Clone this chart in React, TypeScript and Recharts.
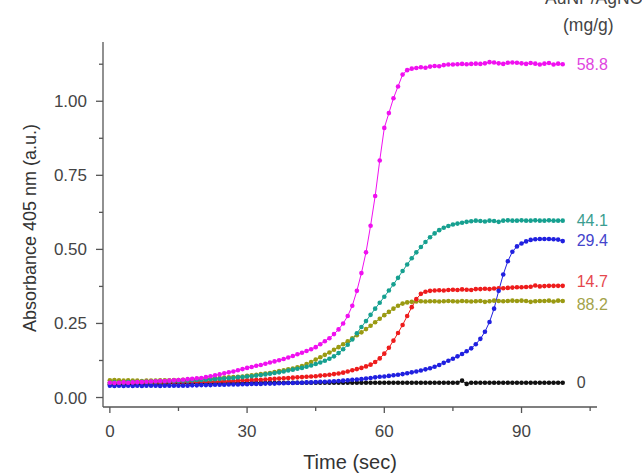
import React from 'react'
import { LineChart, Line, XAxis, YAxis, Label } from 'recharts'

// sampling time (sec), one reading per second
const time = [
  0, 1, 2, 3, 4, 5, 6, 7, 8, 9, 10, 11, 12, 13, 14, 15, 16, 17, 18, 19,
  20, 21, 22, 23, 24, 25, 26, 27, 28, 29, 30, 31, 32, 33, 34, 35, 36, 37, 38, 39,
  40, 41, 42, 43, 44, 45, 46, 47, 48, 49, 50, 51, 52, 53, 54, 55, 56, 57, 58, 59,
  60, 61, 62, 63, 64, 65, 66, 67, 68, 69, 70, 71, 72, 73, 74, 75, 76, 77, 78, 79,
  80, 81, 82, 83, 84, 85, 86, 87, 88, 89, 90, 91, 92, 93, 94, 95, 96, 97, 98, 99,
]

// AuNP/AgNO3 ratio (mg/g) series
const s58_8 = [
  0.050, 0.049, 0.050, 0.051, 0.050, 0.051, 0.052, 0.052, 0.053, 0.054,
  0.055, 0.056, 0.056, 0.057, 0.058, 0.059, 0.060, 0.062, 0.063, 0.065,
  0.066, 0.069, 0.072, 0.075, 0.078, 0.082, 0.085, 0.088, 0.092, 0.096,
  0.100, 0.103, 0.107, 0.110, 0.114, 0.118, 0.122, 0.126, 0.130, 0.135,
  0.140, 0.146, 0.151, 0.157, 0.163, 0.170, 0.180, 0.190, 0.200, 0.214,
  0.230, 0.250, 0.275, 0.310, 0.360, 0.420, 0.490, 0.580, 0.680, 0.800,
  0.910, 0.960, 1.010, 1.050, 1.090, 1.105, 1.110, 1.112, 1.115, 1.113,
  1.117, 1.119, 1.118, 1.122, 1.124, 1.124, 1.125, 1.126, 1.125, 1.126,
  1.127, 1.126, 1.128, 1.132, 1.131, 1.128, 1.126, 1.130, 1.131, 1.130,
  1.128, 1.126, 1.129, 1.127, 1.124, 1.127, 1.129, 1.124, 1.127, 1.125,
]
const s44_1 = [
  0.050, 0.051, 0.050, 0.051, 0.052, 0.052, 0.052, 0.053, 0.053, 0.053,
  0.054, 0.054, 0.055, 0.055, 0.056, 0.056, 0.057, 0.057, 0.058, 0.059,
  0.059, 0.060, 0.061, 0.062, 0.063, 0.064, 0.065, 0.066, 0.068, 0.069,
  0.071, 0.072, 0.074, 0.076, 0.078, 0.080, 0.083, 0.085, 0.088, 0.091,
  0.094, 0.097, 0.100, 0.104, 0.108, 0.113, 0.118, 0.124, 0.131, 0.139,
  0.150, 0.163, 0.178, 0.196, 0.217, 0.238, 0.258, 0.279, 0.300, 0.320,
  0.340, 0.361, 0.382, 0.404, 0.427, 0.449, 0.470, 0.490, 0.508, 0.525,
  0.541, 0.554, 0.565, 0.573, 0.579, 0.584, 0.587, 0.590, 0.593, 0.595,
  0.597, 0.596, 0.594, 0.597, 0.596, 0.593, 0.597, 0.598, 0.597, 0.597,
  0.598, 0.597, 0.597, 0.598, 0.597, 0.597, 0.598, 0.597, 0.597, 0.597,
]
const s29_4 = [
  0.040, 0.039, 0.040, 0.039, 0.040, 0.039, 0.040, 0.039, 0.040, 0.040,
  0.040, 0.039, 0.040, 0.040, 0.040, 0.040, 0.040, 0.040, 0.041, 0.041,
  0.042, 0.042, 0.042, 0.043, 0.043, 0.043, 0.044, 0.044, 0.044, 0.045,
  0.045, 0.046, 0.046, 0.046, 0.047, 0.047, 0.047, 0.048, 0.048, 0.049,
  0.049, 0.050, 0.050, 0.051, 0.051, 0.052, 0.053, 0.053, 0.054, 0.055,
  0.056, 0.057, 0.058, 0.060, 0.061, 0.062, 0.064, 0.066, 0.068, 0.070,
  0.071, 0.073, 0.075, 0.077, 0.079, 0.082, 0.085, 0.088, 0.091, 0.095,
  0.099, 0.104, 0.110, 0.117, 0.124, 0.131, 0.139, 0.147, 0.156, 0.166,
  0.180, 0.198, 0.222, 0.255, 0.300, 0.360, 0.415, 0.460, 0.492, 0.510,
  0.520, 0.527, 0.532, 0.534, 0.535, 0.535, 0.535, 0.534, 0.533, 0.528,
]
const s14_7 = [
  0.050, 0.049, 0.050, 0.050, 0.049, 0.050, 0.050, 0.050, 0.051, 0.050,
  0.051, 0.051, 0.051, 0.052, 0.051, 0.052, 0.052, 0.052, 0.053, 0.052,
  0.053, 0.053, 0.054, 0.054, 0.055, 0.055, 0.056, 0.056, 0.057, 0.058,
  0.058, 0.059, 0.060, 0.060, 0.061, 0.062, 0.063, 0.064, 0.065, 0.066,
  0.067, 0.068, 0.069, 0.070, 0.071, 0.072, 0.074, 0.075, 0.077, 0.079,
  0.081, 0.084, 0.088, 0.092, 0.096, 0.100, 0.105, 0.111, 0.120, 0.132,
  0.148, 0.168, 0.192, 0.218, 0.245, 0.275, 0.305, 0.332, 0.350, 0.357,
  0.360, 0.361, 0.362, 0.361, 0.363, 0.364, 0.363, 0.365, 0.364, 0.363,
  0.366, 0.366, 0.367, 0.366, 0.368, 0.369, 0.369, 0.370, 0.371, 0.372,
  0.372, 0.373, 0.374, 0.378, 0.375, 0.376, 0.377, 0.377, 0.377, 0.377,
]
const s88_2 = [
  0.058, 0.059, 0.058, 0.057, 0.058, 0.057, 0.057, 0.056, 0.057, 0.057,
  0.057, 0.058, 0.058, 0.058, 0.059, 0.059, 0.060, 0.060, 0.061, 0.062,
  0.062, 0.063, 0.064, 0.065, 0.066, 0.067, 0.068, 0.069, 0.070, 0.071,
  0.073, 0.075, 0.077, 0.079, 0.081, 0.083, 0.086, 0.089, 0.092, 0.095,
  0.098, 0.102, 0.106, 0.113, 0.120, 0.128, 0.136, 0.144, 0.152, 0.161,
  0.170, 0.180, 0.190, 0.200, 0.210, 0.220, 0.231, 0.242, 0.254, 0.266,
  0.278, 0.289, 0.300, 0.310, 0.317, 0.321, 0.323, 0.324, 0.325, 0.324,
  0.325, 0.325, 0.324, 0.325, 0.326, 0.325, 0.324, 0.326, 0.325, 0.324,
  0.325, 0.326, 0.323, 0.325, 0.327, 0.326, 0.325, 0.326, 0.327, 0.326,
  0.327, 0.326, 0.323, 0.325, 0.326, 0.326, 0.327, 0.324, 0.327, 0.326,
]
const s0 = [
  0.044, 0.044, 0.045, 0.044, 0.045, 0.045, 0.045, 0.045, 0.046, 0.046,
  0.046, 0.046, 0.046, 0.047, 0.047, 0.047, 0.047, 0.047, 0.048, 0.048,
  0.048, 0.048, 0.048, 0.048, 0.049, 0.049, 0.049, 0.049, 0.049, 0.049,
  0.050, 0.050, 0.050, 0.050, 0.050, 0.050, 0.050, 0.050, 0.050, 0.050,
  0.050, 0.050, 0.050, 0.050, 0.050, 0.050, 0.050, 0.050, 0.050, 0.050,
  0.050, 0.050, 0.050, 0.050, 0.050, 0.050, 0.050, 0.050, 0.050, 0.050,
  0.050, 0.050, 0.050, 0.050, 0.050, 0.050, 0.050, 0.050, 0.050, 0.050,
  0.050, 0.050, 0.050, 0.050, 0.050, 0.050, 0.050, 0.057, 0.046, 0.050,
  0.050, 0.050, 0.050, 0.050, 0.050, 0.050, 0.050, 0.050, 0.050, 0.050,
  0.050, 0.050, 0.050, 0.050, 0.050, 0.050, 0.050, 0.050, 0.050, 0.050,
]

const xTicks = [0, 15, 30, 45, 60, 75, 90, 105]
const yTicks = [0, 0.125, 0.25, 0.375, 0.5, 0.625, 0.75, 0.875, 1, 1.125]

const series = [
  { key: 'a', name: '0', values: s0, color: '#111111', text: '#444444', nudge: 0 },
  { key: 'b', name: '88.2', values: s88_2, color: '#9a9a12', text: '#a3a34a', nudge: 4 },
  { key: 'c', name: '14.7', values: s14_7, color: '#ee1c1c', text: '#e5484d', nudge: -4 },
  { key: 'd', name: '29.4', values: s29_4, color: '#2020e0', text: '#4444cc', nudge: -1 },
  { key: 'e', name: '44.1', values: s44_1, color: '#16a090', text: '#3a9d90', nudge: 0 },
  { key: 'f', name: '58.8', values: s58_8, color: '#f010f0', text: '#e045e0', nudge: 0 },
]

const data = time.map((t, i) => {
  const row: any = { t }
  series.forEach(s => { row[s.key] = s.values[i] })
  return row
})

const FONT = 'Liberation Sans, Arial, sans-serif'

const XTick = ({ x, y, payload }: any) => {
  const major = payload.value % 30 === 0
  return (
    <g>
      <line x1={x} x2={x} y1={y} y2={y + (major ? 6 : 4)} stroke="#555" strokeWidth={1.3} />
      {major && (
        <text x={x} y={y + 30} textAnchor="middle" fill="#444" fontSize={17} fontFamily={FONT}>
          {payload.value}
        </text>
      )}
    </g>
  )
}

const YTick = ({ x, y, payload }: any) => {
  const major = Math.abs((payload.value * 4) % 1) < 1e-6
  return (
    <g>
      <line x1={x - (major ? 7 : 4)} x2={x} y1={y} y2={y} stroke="#555" strokeWidth={1.3} />
      {major && (
        <text x={x - 16} y={y} dy={6} textAnchor="end" fill="#444" fontSize={17} fontFamily={FONT}>
          {payload.value.toFixed(2)}
        </text>
      )}
    </g>
  )
}

const endLabel = (s: any) => (props: any) => {
  if (props.index !== data.length - 1) return null
  return (
    <text x={props.x + 14} y={props.y + s.nudge} dy={5.5} fill={s.text} fontSize={16} fontFamily={FONT}>
      {s.name}
    </text>
  )
}

export default function App() {
  return (
    <div style={{ position: 'relative', width: 642, height: 474, background: '#fff', overflow: 'hidden' }}>
      <style>{'body{margin:0}'}</style>
      <LineChart width={642} height={474} data={data} margin={{ top: 42, right: 45, bottom: 37, left: 33 }}>
        <XAxis
          type="number"
          dataKey="t"
          domain={[-1.5, 106.5]}
          ticks={xTicks}
          tick={<XTick />}
          tickLine={false}
          tickSize={0}
          tickMargin={0}
          height={30}
          stroke="#555"
          strokeWidth={1.3}
          allowDataOverflow
        >
          <Label
            content={() => (
              <text x={350} y={469} textAnchor="middle" fill="#333" fontSize={20} fontFamily={FONT}>
                Time (sec)
              </text>
            )}
          />
        </XAxis>
        <YAxis
          type="number"
          domain={[-0.032, 1.2]}
          ticks={yTicks}
          tick={<YTick />}
          tickLine={false}
          tickSize={0}
          tickMargin={0}
          width={70}
          stroke="#555"
          strokeWidth={1.3}
          allowDataOverflow
        >
          <Label
            content={() => (
              <text
                x={30}
                y={228}
                transform="rotate(-90 30 228)"
                textAnchor="middle"
                dominantBaseline="central"
                fill="#333"
                fontSize={18}
                fontFamily={FONT}
              >
                Absorbance 405 nm (a.u.)
              </text>
            )}
          />
        </YAxis>
        {series.map(s => (
          <Line
            key={s.key}
            dataKey={s.key}
            stroke={s.color}
            strokeWidth={1}
            dot={{ r: 2.3, fill: s.color, stroke: 'none' }}
            label={endLabel(s)}
            isAnimationActive={false}
          />
        ))}
      </LineChart>
      <div style={{ position: 'absolute', left: 545, top: -12, fontFamily: FONT, fontSize: 17.5, color: '#444', whiteSpace: 'nowrap' }}>
        AuNP/AgNO<sub style={{ fontSize: 11 }}>3</sub>
      </div>
      <div style={{ position: 'absolute', left: 563, top: 15, fontFamily: FONT, fontSize: 17.5, color: '#444' }}>
        (mg/g)
      </div>
    </div>
  )
}
